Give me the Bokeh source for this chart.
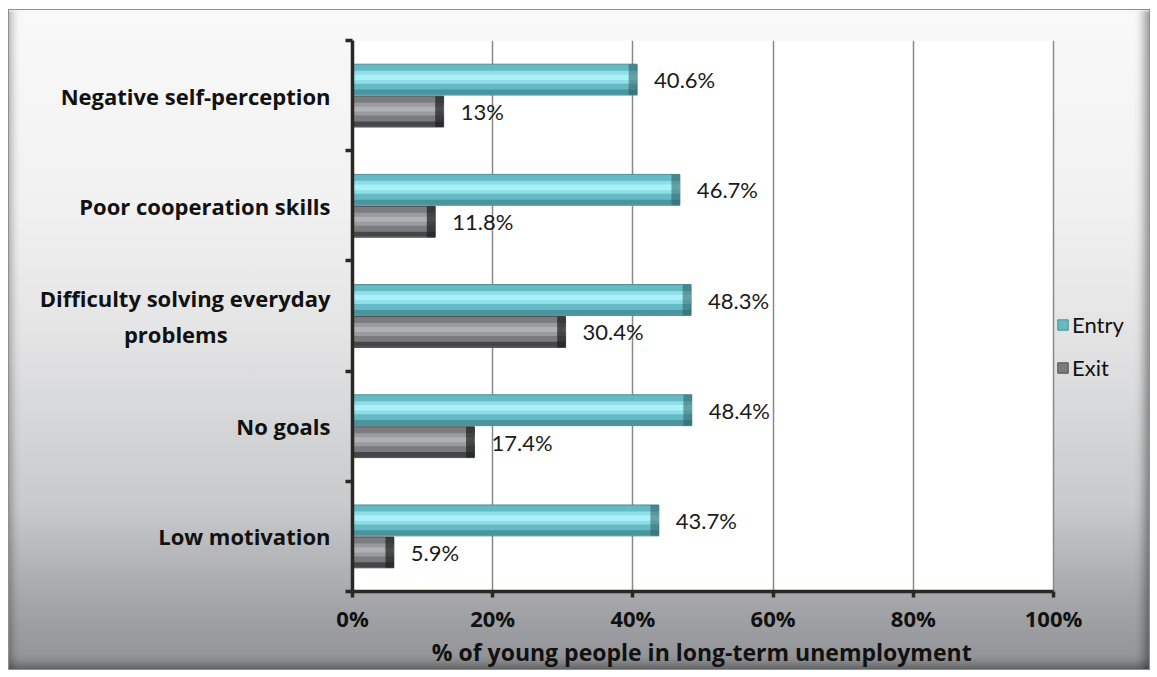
from bokeh.plotting import figure
from bokeh.models import (ColumnDataSource, FixedTicker, PrintfTickFormatter,
                          Legend, LegendItem, Range1d, BoxAnnotation)
from bokeh.core.properties import value
from bokeh.embed import file_html
from bokeh.resources import INLINE

# ---- data (bottom to top) ----
categories = ["Low motivation", "No goals", "Difficulty solving everyday\nproblems",
              "Poor cooperation skills", "Negative self-perception"]
entry = [43.7, 48.4, 48.3, 46.7, 40.6]
exit_ = [5.9, 17.4, 30.4, 11.8, 13.0]
x_ticks = [0, 20, 40, 60, 80, 100]
x_title = "% of young people in long-term unemployment"

BOLD_FONT = "Open Sans"
FONT = "Lato"
n = len(categories)
centers = [i + 0.5 for i in range(n)]
X_MAX = 100

FIG_W, FIG_H = 1142, 661
B_LEFT, B_RIGHT, B_TOP, B_BOTTOM = 344, 4, 31, 77
PLOT_PX = 701  # pixel width of the 0-100% plot area
frame_w = FIG_W - B_LEFT - B_RIGHT
x_end = X_MAX * frame_w / PLOT_PX  # frame extends to hold the legend

H = 0.28  # bar height in category units
entry_y = [c + H / 2 + 0.005 for c in centers]
exit_y = [c - H / 2 - 0.005 for c in centers]

src_entry = ColumnDataSource(dict(y=entry_y, v=entry, lab=[f"{v:g}%" for v in entry],
                                  cap=[max(v - 1.2, 0) for v in entry]))
src_exit = ColumnDataSource(dict(y=exit_y, v=exit_, lab=[f"{v:g}%" for v in exit_],
                                 cap=[max(v - 1.2, 0) for v in exit_]))

p = figure(width=FIG_W, height=FIG_H, output_backend="svg", toolbar_location=None,
           x_range=Range1d(0, x_end), y_range=Range1d(0, n),
           min_border_left=B_LEFT, min_border_right=B_RIGHT, min_border_top=B_TOP,
           min_border_bottom=B_BOTTOM,
           background_fill_color=None, border_fill_color=None,
           outline_line_color=None,
           styles={
               "margin-left": "8px",
               "margin-top": "9px",
               "background": "linear-gradient(to bottom, #f9f9f9 0%, #f1f1f1 30%, #e3e3e4 50%, #c9cacc 75%, #a3a5a8 90%, #8f9194 100%)",
               "box-shadow": "inset 0 0 0 1px #8f8f8f, inset 0 3px 3px -1px rgba(255,255,255,0.9), inset 9px 0 9px -5px rgba(0,0,0,0.28), inset -11px 0 10px -5px rgba(0,0,0,0.38), inset 0 -11px 10px -5px rgba(0,0,0,0.32)",
           })

# white plot area (0-100%)
p.add_layout(BoxAnnotation(left=0, right=X_MAX, bottom=0, top=n, fill_color="white",
                           fill_alpha=1, line_color=None, level="image"))

# ---- Entry bars (bevel imitation with stacked strips) ----
r_entry = p.hbar(y="y", left=0, right="v", height=H, source=src_entry,
                 fill_color="#64bac5", line_color="#4d8f98", line_width=1)
p.hbar(y=[y + H * 0.08 for y in entry_y], left=0, right=entry, height=H * 0.42,
       fill_color="#8fdde7", line_color=None)
p.hbar(y=[y + H * 0.08 for y in entry_y], left=0, right=entry, height=H * 0.18,
       fill_color="#a8f1f9", line_color=None)
p.hbar(y=[y - H * 0.40 for y in entry_y], left=0, right=entry, height=H * 0.16,
       fill_color="#4b939d", line_color=None)
p.hbar(y="y", left="cap", right="v", height=H, source=src_entry,
       fill_color="#2d5e65", fill_alpha=0.55, line_color=None)

# ---- Exit bars ----
r_exit = p.hbar(y="y", left=0, right="v", height=H, source=src_exit,
                fill_color="#7b7c7f", line_color="#4e4f52", line_width=1)
p.hbar(y=[y + H * 0.08 for y in exit_y], left=0, right=exit_, height=H * 0.42,
       fill_color="#9a9b9e", line_color=None)
p.hbar(y=[y + H * 0.08 for y in exit_y], left=0, right=exit_, height=H * 0.16,
       fill_color="#b0b1b3", line_color=None)
p.hbar(y=[y - H * 0.40 for y in exit_y], left=0, right=exit_, height=H * 0.16,
       fill_color="#454649", line_color=None)
p.hbar(y="y", left="cap", right="v", height=H, source=src_exit,
       fill_color="#1e1e20", fill_alpha=0.7, line_color=None)

# ---- data labels ----
for s in (src_entry, src_exit):
    p.text(x="v", y="y", text="lab", source=s, x_offset=17,
           text_font=value(FONT), text_font_size="22px", text_color="#1a1a1a",
           text_baseline="middle", text_align="left")

# ---- axes ----
# the frame is wider than the 0-100% area (legend lives there); pad the title
# with trailing no-break spaces so that it stays centred under 0-100%
p.xaxis.ticker = FixedTicker(ticks=x_ticks)
p.xaxis.bounds = (0, X_MAX)
p.xaxis.formatter = PrintfTickFormatter(format="%d%%")
p.xaxis.axis_label = x_title + "\u00a0" * 16
p.xaxis.axis_label_text_font = BOLD_FONT
p.xaxis.axis_label_text_font_style = "bold"
p.xaxis.axis_label_text_font_size = "23px"
p.xaxis.axis_label_text_color = "#111111"
p.xaxis.axis_label_standoff = 0
p.xaxis.major_label_text_font = BOLD_FONT
p.xaxis.major_label_text_font_style = "bold"
p.xaxis.major_label_text_font_size = "22px"
p.xaxis.major_label_text_color = "#111111"
p.xaxis.major_label_standoff = 5
p.xaxis.major_tick_in = 0
p.xaxis.major_tick_out = 6
p.xaxis.minor_tick_out = 0
p.xaxis.minor_tick_in = 0


def centred(label):
    lines = label.split("\n")
    if len(lines) == 1:
        return label
    # pad shorter lines on the right with no-break spaces to centre them
    longest = max(len(l) for l in lines)
    return "\n".join(l + "\u00a0" * int((longest - len(l)) * 0.95) for l in lines)


p.yaxis.ticker = FixedTicker(ticks=centers, minor_ticks=list(range(n + 1)))
p.yaxis.major_label_overrides = {c: centred(lab) for c, lab in zip(centers, categories)}
p.yaxis.major_label_text_font = BOLD_FONT
p.yaxis.major_label_text_font_style = "bold"
p.yaxis.major_label_text_font_size = "22px"
p.yaxis.major_label_text_color = "#111111"
p.yaxis.major_label_standoff = 15
p.yaxis.major_tick_in = 0
p.yaxis.major_tick_out = 0
p.yaxis.minor_tick_in = 0
p.yaxis.minor_tick_out = 7

for ax in (p.xaxis, p.yaxis):
    ax.axis_line_color = "#2b2722"
    ax.axis_line_width = 3.5
    ax.major_tick_line_color = "#2b2722"
    ax.major_tick_line_width = 3.5
    ax.minor_tick_line_color = "#2b2722"
    ax.minor_tick_line_width = 3.5

p.xgrid.ticker = FixedTicker(ticks=x_ticks)
p.xgrid.bounds = (0, n)
p.xgrid.grid_line_color = "#8a8a8a"
p.xgrid.grid_line_width = 1.5
p.ygrid.grid_line_color = None

# ---- legend ----
legend = Legend(items=[LegendItem(label="Entry", renderers=[r_entry]),
                       LegendItem(label="Exit", renderers=[r_exit])],
                location=(704, 210), background_fill_alpha=0,
                border_line_color=None, label_text_font=FONT,
                label_text_font_size="22px", label_text_color="#111111",
                glyph_width=13, glyph_height=13, label_height=24,
                spacing=16, padding=2, margin=0, label_standoff=3)
p.add_layout(legend, "center")

open("out.html", "w").write(file_html(p, INLINE))
